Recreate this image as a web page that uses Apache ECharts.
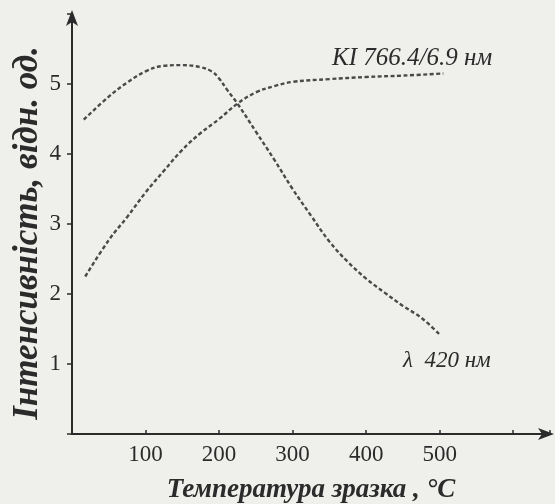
<!DOCTYPE html>
<html>
<head>
<meta charset="utf-8">
<script src="https://cdn.jsdelivr.net/npm/echarts@6/dist/echarts.min.js"></script>
<style>
  html, body { margin: 0; padding: 0; background: #efefec; }
  #chart { width: 555px; height: 504px; }
</style>
</head>
<body>
<div id="chart"></div>
<script>
// KI 766.4/6.9 nm curve (rising)
const kiTemp = [18, 50, 75, 100, 125, 150, 175, 200, 225, 250, 275, 300, 350, 400, 450, 505];
const kiValue = [2.25, 2.77, 3.1, 3.45, 3.76, 4.06, 4.3, 4.5, 4.72, 4.88, 4.97, 5.03, 5.07, 5.1, 5.12, 5.15];

// lambda 420 nm curve (peak then fall)
const lamTemp = [16, 50, 75, 100, 125, 150, 175, 190, 200, 210, 225, 250, 275, 300, 325, 350, 375, 400, 425, 450, 475, 500];
const lamValue = [4.49, 4.82, 5.02, 5.18, 5.26, 5.27, 5.24, 5.18, 5.08, 4.93, 4.72, 4.32, 3.92, 3.5, 3.12, 2.75, 2.46, 2.22, 2.02, 1.83, 1.66, 1.42];

const xLabels = [100, 200, 300, 400, 500];
const yLabels = [1, 2, 3, 4, 5];

const serif = '"Liberation Serif", "DejaVu Serif", serif';
const ink = '#2b2b2b';

const pairs = (xs, ys) => xs.map((x, i) => [x, ys[i]]);

const lineStyle = {
  color: '#4a4a4a',
  width: 2.4,
  type: [4, 2.5],
};

const chart = echarts.init(document.getElementById('chart'));
chart.setOption({
  backgroundColor: '#efefec',
  animation: false,
  grid: { left: 72, right: 5, top: 14, bottom: 70, outerBoundsMode: 'none' },
  xAxis: {
    type: 'value',
    min: 0,
    max: 650,
    interval: 100,
    splitLine: { show: false },
    axisLine: {
      lineStyle: { color: ink, width: 2 },
      symbol: ['none', 'arrow'],
      symbolSize: [9, 16],
      symbolOffset: [0, 4],
    },
    axisTick: { inside: true, length: 4, lineStyle: { color: ink, width: 1.5 } },
    axisLabel: {
      color: ink,
      fontFamily: serif,
      fontSize: 23,
      margin: 9,
      formatter: v => (xLabels.includes(v) ? String(v) : ''),
    },
    name: 'Температура зразка , °C',
    nameLocation: 'middle',
    nameGap: 43,
    nameMoveOverlap: false,
    nameTextStyle: {
      color: ink,
      fontFamily: serif,
      fontSize: 27,
      fontStyle: 'italic',
      fontWeight: 'bold',
    },
  },
  yAxis: {
    type: 'value',
    min: 0,
    max: 6,
    interval: 1,
    splitLine: { show: false },
    axisLine: {
      lineStyle: { color: ink, width: 2 },
      symbol: ['none', 'arrow'],
      symbolSize: [9, 16],
      symbolOffset: [0, 4],
    },
    axisTick: { length: 5, lineStyle: { color: ink, width: 1.5 } },
    axisLabel: {
      color: ink,
      fontFamily: serif,
      fontSize: 23,
      margin: 11,
      formatter: v => (yLabels.includes(v) ? String(v) : ''),
    },
    name: 'Інтенсивність, відн. од.',
    nameLocation: 'middle',
    nameGap: 27,
    nameMoveOverlap: false,
    nameTextStyle: {
      color: ink,
      fontFamily: serif,
      fontSize: 35,
      fontStyle: 'italic',
      fontWeight: 'bold',
      padding: [0, 18, 0, 0],
    },
  },
  series: [
    {
      name: 'KI 766.4/6.9 нм',
      type: 'line',
      smooth: 0.4,
      showSymbol: false,
      lineStyle,
      data: pairs(kiTemp, kiValue),
    },
    {
      name: 'λ 420 нм',
      type: 'line',
      smooth: 0.4,
      showSymbol: false,
      lineStyle,
      data: pairs(lamTemp, lamValue),
    },
  ],
  graphic: [
    {
      type: 'text',
      left: 332,
      top: 46,
      style: {
        text: 'KI 766.4/6.9 нм',
        fill: ink,
        font: 'italic 25px ' + serif,
      },
    },
    {
      type: 'text',
      left: 403,
      top: 349,
      style: {
        text: 'λ  420 нм',
        fill: ink,
        font: 'italic 23px ' + serif,
      },
    },
  ],
});
</script>
</body>
</html>
